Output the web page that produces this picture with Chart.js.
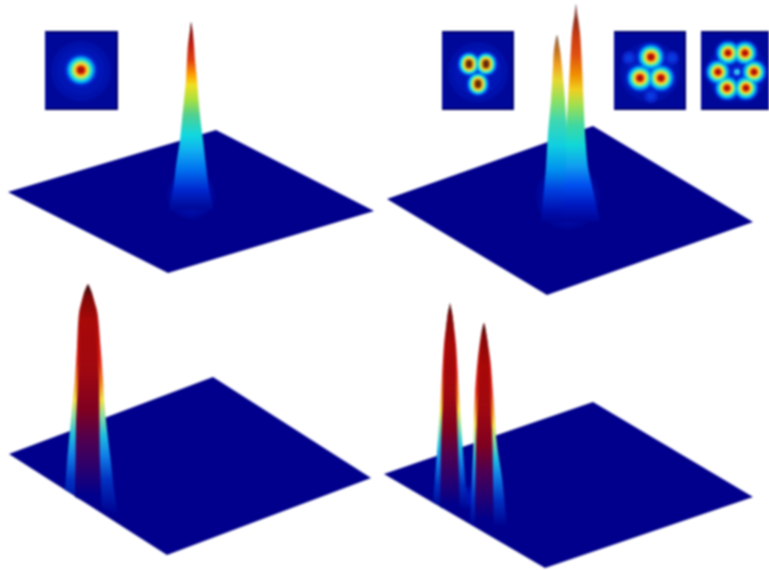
<!DOCTYPE html>
<html>
<head>
<meta charset="utf-8">
<script src="https://cdn.jsdelivr.net/npm/chart.js@4"></script>
<style>
html,body{margin:0;padding:0;background:#fff;overflow:hidden}
canvas{display:block;background:#fff;filter:blur(1px)}
</style>
</head>
<body>
<canvas id="c" width="769" height="570"></canvas>
<script>
// ---- Surface planes (corners)
const plane1X=[8,216,374,168], plane1Y=[192,130,211,273];
const plane2X=[387,593,753,547], plane2Y=[199,126,222,295];
const plane3X=[9,213,371,167], plane3Y=[454,377,478,555];
const plane4X=[384,593,753,545], plane4Y=[474,402,497,568];

// ---- Peak silhouettes
const peak1X=[169,173,176,180,182,184,186,187,188,190,191,192.5,194,195,197,198.5,200.5,203,206,209,213];
const peak1Y=[210,190,166,140,120,100,80,60,45,30,22,30,45,60,80,100,120,140,166,190,210];
const peak2aX=[541,544,546,548,551,553,554,557,560,562,565,567,570,575];
const peak2aY=[222,190,167,133,100,67,50,35,50,67,100,133,167,222];
const peak2bX=[560,566,566,568,570,572,574.5,576,577.5,580,582,583.5,585,588,593,600];
const peak2bY=[222,167,133,100,67,33,15,4,15,33,67,100,133,167,190,222];
const peak3OuterX=[65,67,70,73,75,77,79,83,86,88,90,93,97.5,100.5,103,104,107,111,114,118];
const peak3OuterY=[490,463,430,400,380,347,313,297,288,284,288,297,313,347,380,400,430,463,490,515];
const peak3CoreX=[75,75.5,76,78,79,80,84,88,92,96,97.5,99,99.5,100,102];
const peak3CoreY=[497,463,423,380,347,313,293,286,293,313,347,380,423,463,510];
const peak4aOuterX=[433,435,437.5,441,444,447,449,450,451,453,456,459,462.5,465,468];
const peak4aOuterY=[503,478,445,395,345,320,308,303,308,320,345,395,445,478,510];
const peak4aCoreX=[440,440.5,441,443,445,447.5,450,452.5,455,456.5,458,459,460];
const peak4aCoreY=[507,478,445,395,345,315,306,315,345,395,445,478,515];
const peak4bOuterX=[470,472,473.5,475,477.5,481,484,486.5,490.5,493,497,502,507];
const peak4bOuterY=[524,478,445,395,362,335,323,335,362,395,445,478,526];
const peak4bCoreX=[475,475.5,476,478,479.5,484,487,489,490.5,492.5,493,494];
const peak4bCoreY=[525,478,445,395,362,326,338,362,395,445,478,530];

// ---- Height colour stops
const peak1StopY=[22,32,45,60,75,85,100,115,135,150,170,190,205,216];
const peak1Colors=['#5a1010','#8a1010','#c02010','#e04010','#ffa000','#f0e020','#a8e040','#50d090','#10d8e0','#10b0f0','#0070f0','#0028d0','#000ea0','#00008c'];
const peak2aStopY=[35,50,65,80,100,120,145,170,190,210,225];
const peak2aColors=['#8a7060','#c07020','#f0a020','#e8d830','#90e060','#40d8b0','#10d0e0','#0090f0','#0040e0','#0010b0','#00008c'];
const peak2bStopY=[4,20,35,55,75,90,105,125,145,165,185,205,225];
const peak2bColors=['#8a7070','#903020','#c83a10','#e05010','#f09000','#f0d020','#a0e050','#40d8a0','#10d8d8','#10a0f0','#0050f0','#0018c0','#00008c'];
const peak3StopY=[284,300,340,360,385,400,415,435,455,480,515];
const outerColors=['#5a1010','#a01010','#c81008','#e02010','#f09020','#f0e040','#90e0a0','#20c0e0','#1080e8','#0030c0','#000090'];
const peak4aStopY=[303,320,350,372,395,410,425,445,462,485,510];
const peak4bStopY=[323,340,368,390,412,425,440,458,475,500,526];
const coreColors=['#401010','#800808','#a80808','#a00810','#800020','#500050','#280070','#00008c'];
const peak3CoreStopY=[287,297,320,370,410,440,470,495];
const peak4aCoreStopY=[306,316,345,395,430,455,480,505];
const peak4bCoreStopY=[326,336,365,410,445,470,495,520];

// ---- Soft glow at the foot of the peaks
const glowX=[191,568,467,452,486], glowY=[195,197,497,490,505];
const glowRadius=[24,32,11,11,11];
const glowColor='rgba(0,40,215,0.16)';
const glowScale=[1,0.85,0.7,0.55];

// ---- Inset images
const insetTop=32, insetBottom=109;
const inset1X=[45,117], inset2X=[442,513], inset3X=[614,685], inset4X=[701,772];
const insetCenterX=[81,478,650,737], insetCenterY=[71,72,72,72];
const blobs1X=[81], blobs1Y=[70];
const blobs2X=[469,469,486,486,478,478], blobs2Y=[63,65,63,65,83,85];
const blobs3X=[651,640,661], blobs3Y=[57,78,78];
const blobs4X=[728,745,754,746,727,718], blobs4Y=[53,53,72,88,88,72];
const faintX=[629,672,651,737], faintY=[58,58,96,72];
const ringRadius=[17,14,11.5,9.5,7.5,5.5,3.5];
const ringColors=['rgba(0,48,224,0.6)','#0090f0','#20e0e0','#90e880','#f0e030','#f07010','#b01008'];
const smallRingRadius=[12,10,8.5,7,5.5,4,2.5];
const smallRingColors=['rgba(0,48,224,0.6)','#0090f0','#20e0e0','#a0e880','#f0d830','#c07010','#602808'];

// ---- Builders
const toPts=(xs,ys)=>xs.map((x,i)=>({x,y:ys[i]}));
function gradFill(stopY,colors){
  return function(ctx){
    const s=ctx.chart.scales.y;
    if(!s||!ctx.chart.chartArea) return colors[0];
    const a=s.getPixelForValue(stopY[0]), b=s.getPixelForValue(stopY[stopY.length-1]);
    const g=ctx.chart.ctx.createLinearGradient(0,a,0,b);
    stopY.forEach((v,i)=>g.addColorStop((v-stopY[0])/(stopY[stopY.length-1]-stopY[0]),colors[i]));
    return g;
  };
}
const shape=(xs,ys,fillStyle,extra)=>Object.assign({data:toPts(xs,ys),showLine:true,fill:'shape',borderWidth:0,
  pointRadius:0,tension:0,backgroundColor:fillStyle,borderColor:'transparent'},extra||{});
const peak=(xs,ys,fillStyle)=>shape(xs,ys,fillStyle,{tension:0.3});
const dots=(xs,ys,r,col)=>({data:toPts(xs,ys),showLine:false,pointRadius:r,pointBorderWidth:0,pointBackgroundColor:col,backgroundColor:col,borderWidth:0});
const rings=(xs,ys,rad,cols)=>rad.map((r,i)=>dots(xs,ys,r,cols[i]));
const square=(xr)=>shape([xr[0],xr[1],xr[1],xr[0]],[insetTop,insetTop,insetBottom,insetBottom],'#00089a',{borderWidth:2,borderColor:'#00006e'});
const navy='#00008c';

const datasets=[
  shape(plane1X,plane1Y,navy),shape(plane2X,plane2Y,navy),shape(plane3X,plane3Y,navy),shape(plane4X,plane4Y,navy),
  ...glowScale.map(k=>dots(glowX,glowY,glowRadius.map(r=>r*k),glowColor)),
  peak(peak1X,peak1Y,gradFill(peak1StopY,peak1Colors)),
  peak(peak2aX,peak2aY,gradFill(peak2aStopY,peak2aColors)),
  peak(peak2bX,peak2bY,gradFill(peak2bStopY,peak2bColors)),
  peak(peak3OuterX,peak3OuterY,gradFill(peak3StopY,outerColors)),
  peak(peak3CoreX,peak3CoreY,gradFill(peak3CoreStopY,coreColors)),
  peak(peak4aOuterX,peak4aOuterY,gradFill(peak4aStopY,outerColors)),
  peak(peak4aCoreX,peak4aCoreY,gradFill(peak4aCoreStopY,coreColors)),
  peak(peak4bOuterX,peak4bOuterY,gradFill(peak4bStopY,outerColors)),
  peak(peak4bCoreX,peak4bCoreY,gradFill(peak4bCoreStopY,coreColors)),
  square(inset1X),square(inset2X),square(inset3X),square(inset4X),
  dots(insetCenterX,insetCenterY,30,'rgba(0,32,200,0.35)'),
  dots(insetCenterX,insetCenterY,24,'rgba(0,32,200,0.35)'),
  dots(faintX,faintY,7,'#0a22c8'),dots(faintX,faintY,4,'#0838e0'),
  {data:toPts(blobs4X.concat(blobs4X[0]),blobs4Y.concat(blobs4Y[0])),showLine:true,fill:false,pointRadius:0,borderWidth:10,borderColor:'#0050e8',backgroundColor:'transparent'},
  {data:toPts(blobs4X.concat(blobs4X[0]),blobs4Y.concat(blobs4Y[0])),showLine:true,fill:false,pointRadius:0,borderWidth:3,borderColor:'#20c8d8',backgroundColor:'transparent'},
  dots([737],[72],3,'#30c0f0'),
  ...rings(blobs1X,blobs1Y,ringRadius,ringColors),
  ...rings(blobs2X,blobs2Y,smallRingRadius,smallRingColors),
  ...rings(blobs3X,blobs3Y,ringRadius.map(r=>r*0.88),ringColors),
  ...rings(blobs4X,blobs4Y,ringRadius.map(r=>r*0.8),ringColors)
];
datasets.forEach((d,i)=>{d.order=datasets.length-i;d.clip=false;});

new Chart(document.getElementById('c'),{
  type:'scatter',
  data:{datasets},
  options:{
    responsive:false,animation:false,
    layout:{padding:0,autoPadding:false},
    plugins:{legend:{display:false},tooltip:{enabled:false},title:{display:false}},
    scales:{
      x:{type:'linear',min:0,max:769,display:false},
      y:{type:'linear',min:0,max:570,reverse:true,display:false}
    }
  }
});
</script>
</body>
</html>
